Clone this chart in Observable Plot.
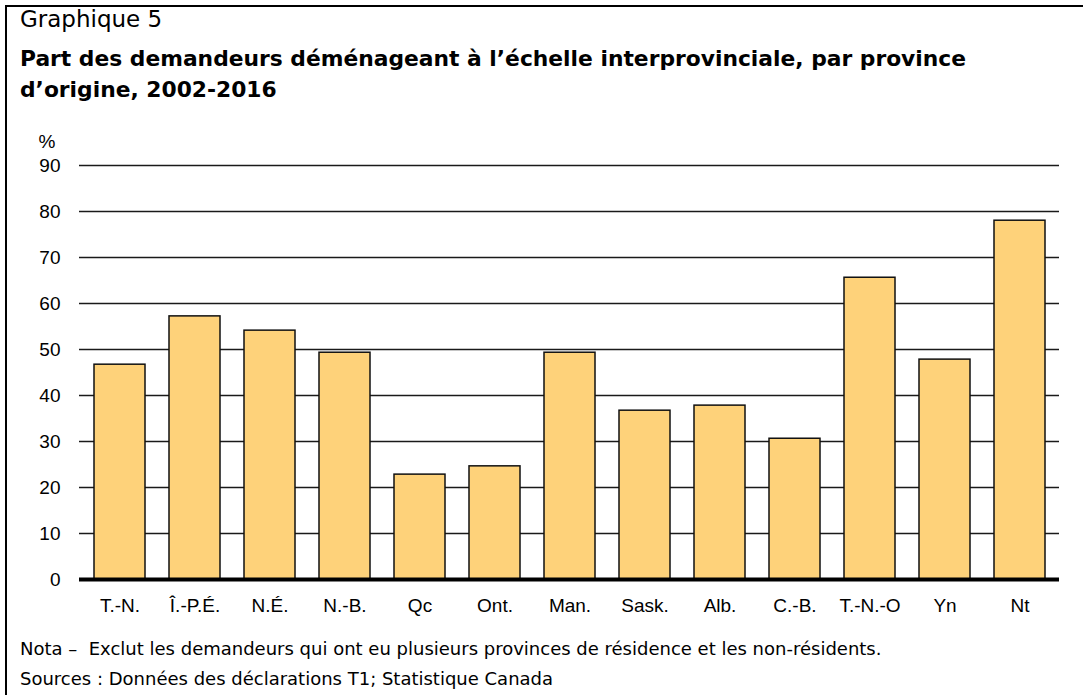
<!DOCTYPE html>
<html>
<head>
<meta charset="utf-8">
<script src="https://cdn.jsdelivr.net/npm/d3@7"></script>
<script src="https://cdn.jsdelivr.net/npm/@observablehq/plot@0.6"></script>
<style>
  html, body { margin: 0; padding: 0; background: #fff; }
  #page { position: relative; width: 1083px; height: 695px; overflow: hidden; background: #fff; }
  #frame { position: absolute; left: 5px; top: 5px; width: 1100px; height: 720px; border-left: 2px solid #000; border-top: 2px solid #000; }
  .t { position: absolute; left: 20px; white-space: nowrap; color: #000; font-family: "DejaVu Sans", sans-serif; }
  #kicker { top: 6px; font-size: 23px; }
  #title { top: 43px; font-size: 21.8px; font-weight: bold; line-height: 31px; }
  #note1 { top: 638px; font-size: 18px; }
  #note2 { top: 668px; font-size: 18px; }
  #chart { position: absolute; left: 0; top: 125px; }
</style>
</head>
<body>
<div id="page">
  <div id="frame"></div>
  <div class="t" id="kicker">Graphique 5</div>
  <div class="t" id="title">Part des demandeurs déménageant à l’échelle interprovinciale, par province<br>d’origine, 2002-2016</div>
  <div id="chart"></div>
  <div class="t" id="note1">Nota –&nbsp; Exclut les demandeurs qui ont eu plusieurs provinces de résidence et les non-résidents.</div>
  <div class="t" id="note2">Sources : Données des déclarations T1; Statistique Canada</div>
</div>
<script>
const provinces = ["T.-N.", "Î.-P.É.", "N.É.", "N.-B.", "Qc", "Ont.", "Man.", "Sask.", "Alb.", "C.-B.", "T.-N.-O", "Yn", "Nt"];
const shares = [46.7, 57.2, 54.1, 49.3, 22.8, 24.6, 49.3, 36.7, 37.8, 30.6, 65.6, 47.8, 78.0];
const yTicks = [0, 10, 20, 30, 40, 50, 60, 70, 80, 90];
const gridTicks = [10, 20, 30, 40, 50, 60, 70, 80, 90];

const data = provinces.map((p, i) => ({province: p, value: shares[i]}));

const chart = Plot.plot({
  width: 1083,
  height: 500,
  marginLeft: 79,
  marginRight: 24,
  marginTop: 40,
  marginBottom: 46,
  style: {fontFamily: "'Liberation Sans', Arial, sans-serif", color: "#000", background: "transparent"},
  x: {domain: provinces, paddingInner: 0.32, paddingOuter: 0.16, label: null},
  y: {domain: [0, 90], label: null},
  marks: [
    Plot.ruleY(gridTicks, {stroke: "#1a1a1a", strokeWidth: 1.5}),
    Plot.barY(data, {x: "province", y: "value", fill: "#FED27A", stroke: "#111", strokeWidth: 1.5}),
    Plot.ruleY([0], {stroke: "#000", strokeWidth: 4}),
    Plot.axisY({ticks: yTicks, tickSize: 0, tickPadding: 19, label: null, fontSize: 19}),
    Plot.axisX({tickSize: 0, tickPadding: 19, label: null, fontSize: 19}),
    Plot.text(["%"], {frameAnchor: "top-left", dx: -41, dy: -31, textAnchor: "start", fontSize: 19})
  ]
});
document.getElementById("chart").appendChild(chart);
</script>
</body>
</html>
